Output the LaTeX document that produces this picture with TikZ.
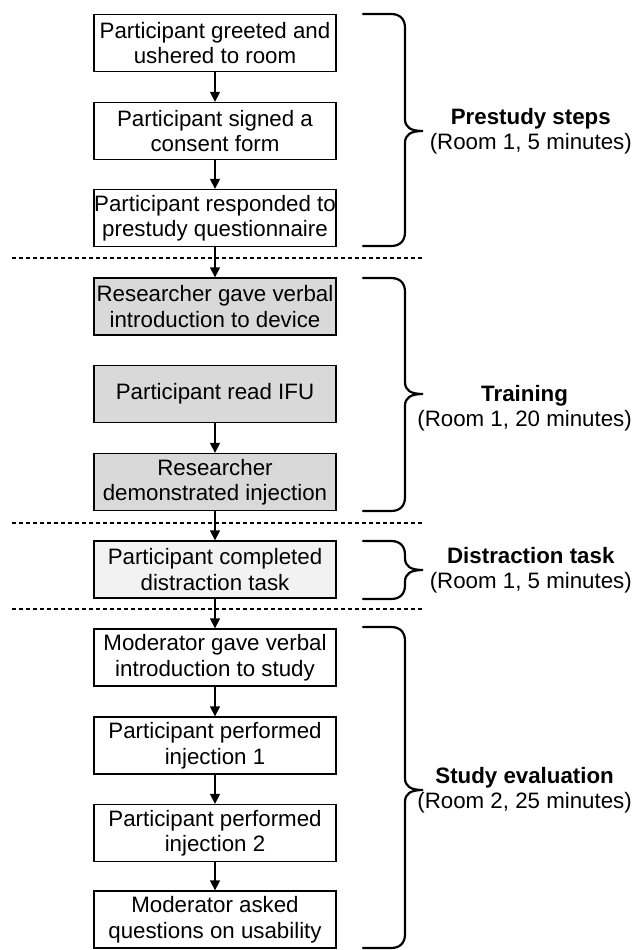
\documentclass[tikz,border=0pt]{standalone}
\usepackage{fontspec}
\setmainfont{Liberation Sans}
\usetikzlibrary{arrows.meta}
\definecolor{traingray}{HTML}{D9D9D9}
\definecolor{distgray}{HTML}{F2F2F2}
\newcommand\mybrace[3]{%
  \draw[bracestyle] (363,#1) -- (391,#1) .. controls (400,#1) and (405,#1+5) .. (405,#1+14)
    -- (405,#3-12) .. controls (405,#3-4) and (410,#3) .. (423,#3)
    .. controls (410,#3) and (405,#3+4) .. (405,#3+12)
    -- (405,#2-14) .. controls (405,#2-5) and (400,#2) .. (391,#2) -- (363,#2);}
\begin{document}
\begin{tikzpicture}[x=1pt,y=-1pt,
  font=\fontsize{22.3}{25.5}\selectfont,
  stepbox/.style={draw=black, line width=1.3pt, minimum width=242pt, minimum height=57pt,
    inner sep=0pt, align=center, fill=white},
  trainbox/.style={stepbox, fill=traingray},
  distbox/.style={stepbox, fill=distgray},
  arr/.style={line width=1.3pt, -{Triangle[length=10pt,width=10pt]}},
  sep/.style={line width=1.2pt, dash pattern=on 4pt off 3pt},
  bracestyle/.style={line width=2.2pt, line cap=round},
  lab/.style={anchor=east, align=center, inner sep=0pt}]
\useasboundingbox (0,0) rectangle (635,950);
\node[stepbox] (b1) at (215,43) {Participant greeted and\\ushered to room};
\node[stepbox] (b2) at (215,131) {Participant signed a\\consent form};
\node[stepbox] (b3) at (215,218) {Participant responded to\\prestudy questionnaire};
\node[trainbox] (b4) at (215,306.5) {Researcher gave verbal\\introduction to device};
\node[trainbox] (b5) at (215,394) {Participant read IFU};
\node[trainbox] (b6) at (215,482) {Researcher\\demonstrated injection};
\node[distbox] (b7) at (215,569.5) {Participant completed\\distraction task};
\node[stepbox] (b8) at (215,657.5) {Moderator gave verbal\\introduction to study};
\node[stepbox] (b9) at (215,745.5) {Participant performed\\injection 1};
\node[stepbox] (b10) at (215,833) {Participant performed\\injection 2};
\node[stepbox] (b11) at (215,919.5) {Moderator asked\\questions on usability};
\coordinate (s1a) at (12,258); \coordinate (s1b) at (422,258);
\coordinate (s2a) at (12,523); \coordinate (s2b) at (422,523);
\coordinate (s3a) at (12,609); \coordinate (s3b) at (422,609);
\draw[sep] (s1a) -- (s1b);
\draw[sep] (s2a) -- (s2b);
\draw[sep] (s3a) -- (s3b);
\draw[arr] (b1) -- (b2);
\draw[arr] (b2) -- (b3);
\draw[arr] (b3) -- (b4);
\draw[arr] (b5) -- (b6);
\draw[arr] (b6) -- (b7);
\draw[arr] (b7) -- (b8);
\draw[arr] (b8) -- (b9);
\draw[arr] (b9) -- (b10);
\draw[arr] (b10) -- (b11);
\mybrace{14}{246}{131}
\mybrace{278}{511}{394}
\mybrace{541}{599}{570}
\mybrace{627}{948}{790}
\node[lab] (l1) at (632,131) {\textbf{Prestudy steps}\\(Room 1, 5 minutes)};
\node[lab] (l2) at (632,408) {\textbf{Training}\\(Room 1, 20 minutes)};
\node[lab] (l3) at (632,570) {\textbf{Distraction task}\\(Room 1, 5 minutes)};
\node[lab] (l4) at (632,790) {\textbf{Study evaluation}\\(Room 2, 25 minutes)};
\end{tikzpicture}
\end{document}
